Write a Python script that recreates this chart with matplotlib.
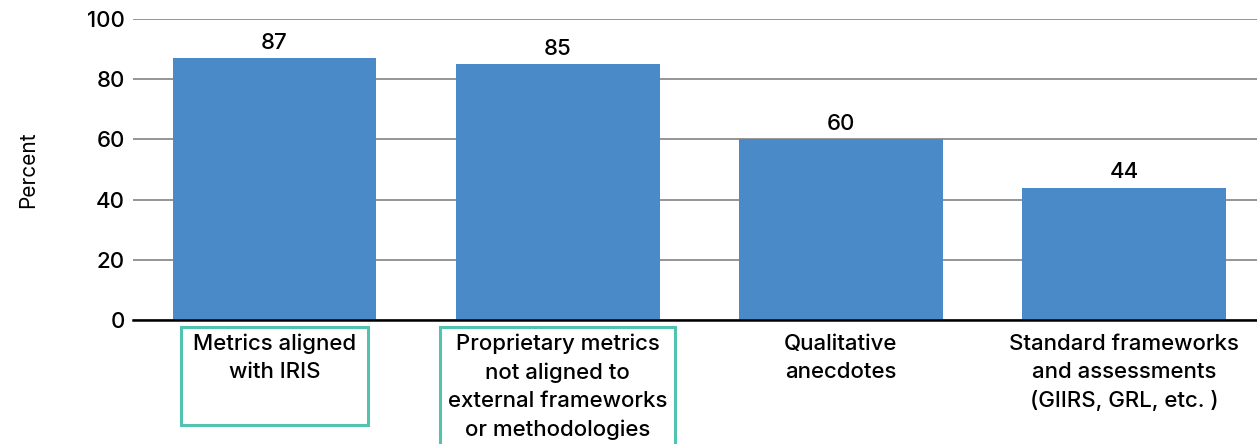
import matplotlib.pyplot as plt
from matplotlib.patches import Rectangle
import matplotlib.transforms as mtransforms

categories = [
    "Metrics aligned\nwith IRIS",
    "Proprietary metrics\nnot aligned to\nexternal frameworks\nor methodologies",
    "Qualitative\nanecdotes",
    "Standard frameworks\nand assessments\n(GIIRS, GRL, etc. )",
]
values = [87, 85, 60, 44]
highlighted = [0, 1]

bar_color = "#4A8AC8"
box_color = "#52C3B1"

plt.rcParams['font.family'] = ['Inter', 'DejaVu Sans']
plt.rcParams['font.weight'] = 500

fig = plt.figure(figsize=(12.57, 4.44), dpi=100)
ax = fig.add_axes([0.1058, 0.2793, 0.8942, 0.6777])

x = list(range(len(values)))
bars = ax.bar(x, values, width=0.72, color=bar_color, zorder=3)

for b, v in zip(bars, values):
    ax.annotate(str(v), (b.get_x() + b.get_width() / 2, v), xytext=(0, 4),
                textcoords="offset points", ha="center", va="bottom", fontsize=16)

ax.set_ylim(0, 100)
ax.set_xlim(-0.5, 3.47)
ax.set_yticks(range(0, 101, 20))
ax.yaxis.grid(True, color="#8c8c8c", linewidth=1.3, zorder=0)
ax.set_xticks(x)
ax.set_xticklabels(categories, fontsize=16, linespacing=1.5)
ax.tick_params(axis="x", length=0, pad=10)
ax.tick_params(axis="y", length=0, pad=6, labelsize=16)

for s in ["top", "right", "left"]:
    ax.spines[s].set_visible(False)
ax.spines["bottom"].set_color("black")
ax.spines["bottom"].set_linewidth(1.8)
ax.spines["bottom"].set_zorder(4)

ax.set_ylabel("Percent", fontsize=15, labelpad=35)

# outlined boxes around highlighted categories
trans = mtransforms.blended_transform_factory(ax.transData, ax.transAxes)
box_sizes = {0: (0.33, -0.349), 1: (0.415, -0.46)}
for i in highlighted:
    hw, bottom = box_sizes[i]
    ax.add_patch(Rectangle((i - hw, bottom), 2 * hw, -0.023 - bottom,
                           transform=trans, fill=False, edgecolor=box_color,
                           linewidth=2.2, clip_on=False))

fig.savefig("out.png", dpi=100)
